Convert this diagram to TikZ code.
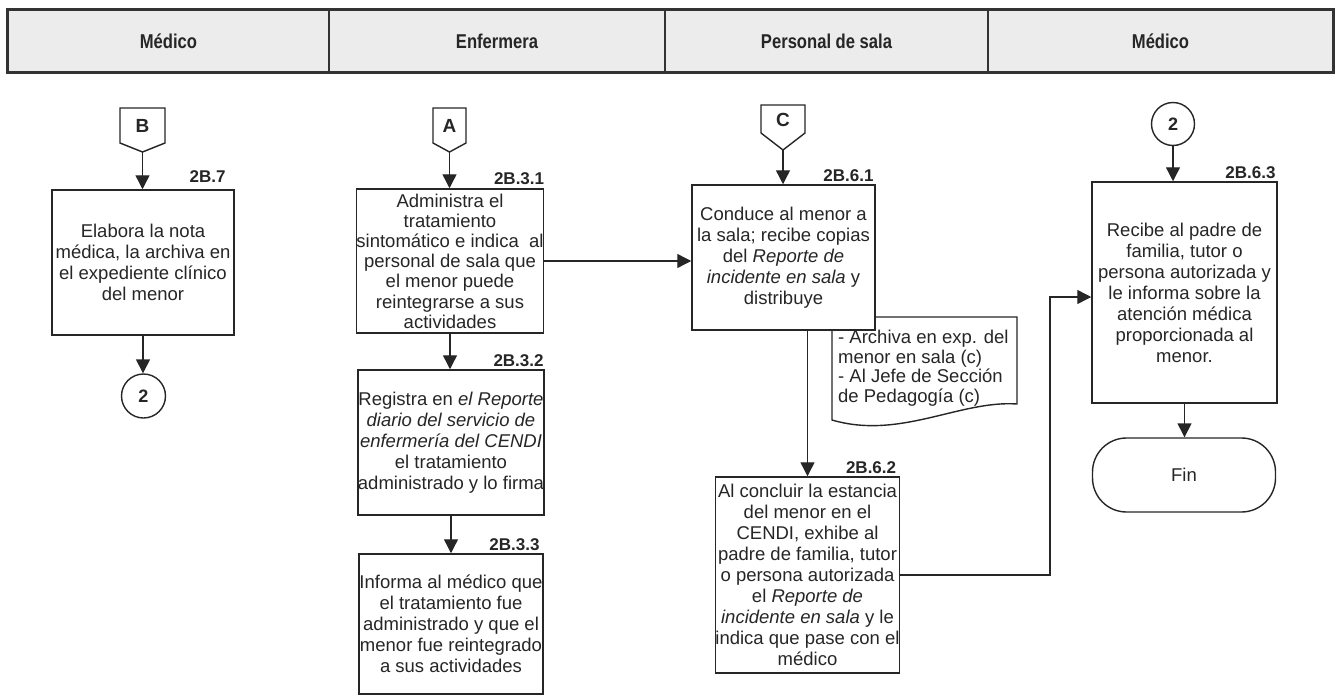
\documentclass[tikz,border=0pt]{standalone}
\usepackage{fontspec}
\setmainfont{Liberation Sans}
\newfontfamily\hdrfont{Liberation Sans}[FakeStretch=0.83]
\usetikzlibrary{arrows.meta,calc}
\begin{document}
\begin{tikzpicture}[x=1pt,y=-1pt,
  ln/.style={draw=black!85, line width=1.4pt},
  arr/.style={ln, -{Triangle[width=14pt,length=14pt]}},
  box/.style={rectangle, draw=black!85, line width=1.5pt, fill=white, inner sep=0pt,
    align=center, text=black!85, font=\fontsize{18.5}{21}\selectfont},
  lbl/.style={anchor=south east, inner sep=0pt, text=black!85,
    font=\bfseries\fontsize{17}{17}\selectfont},
  hdr/.style={rectangle, draw=black!80, line width=1.2pt, fill=gray!15, inner sep=0pt,
    minimum height=62pt, text=black!85, font=\hdrfont\bfseries\fontsize{20}{20}\selectfont},
  offpage/.style={draw=black!85, line width=1.4pt, fill=white},
  letter/.style={inner sep=0pt, text=black!85, font=\bfseries\fontsize{19}{19}\selectfont},
  conn/.style={circle, draw=black!85, line width=1.4pt, fill=white, inner sep=0pt,
    text=black!85, font=\bfseries\fontsize{18}{18}\selectfont},
  term/.style={rectangle, rounded corners=34pt, draw=black!85, line width=1.4pt, fill=white,
    inner sep=0pt, text=black!85, font=\fontsize{18.5}{21}\selectfont},
  doctext/.style={inner sep=0pt, align=left, text=black!85, font=\fontsize{18.5}{19.5}\selectfont}
]
\useasboundingbox (0,0) rectangle (1341,696);

% header
\node[hdr, minimum width=321pt] (h1) at (168.5,41) {Médico};
\node[hdr, minimum width=336pt] (h2) at (497,41) {Enfermera};
\node[hdr, minimum width=323pt] (h3) at (826.5,41) {Personal de sala};
\node[hdr, minimum width=345pt] (h4) at (1160.5,41) {Médico};
\draw[draw=black!80, line width=2pt] (h1.north west) rectangle (h4.south east);

% off-page connectors
\draw[offpage] (120,108) -- (165,108) -- (165,143) -- (142.5,152) -- (120,143) -- cycle;
\node[letter] (B) at (142.5,126) {B};
\coordinate (Btip) at (142.5,152);
\draw[offpage] (433,108) -- (466,108) -- (466,143) -- (449.5,152) -- (433,143) -- cycle;
\node[letter] (A) at (449.5,126) {A};
\coordinate (Atip) at (449.5,152);
\draw[offpage] (761,105) -- (805,105) -- (805,133) -- (783,150) -- (761,133) -- cycle;
\node[letter] (C) at (783,120) {C};
\coordinate (Ctip) at (783,150);

% column 1
\node[box, minimum width=182pt, minimum height=145pt] (b7) at (143,262.5)
  {Elabora la nota\\médica, la archiva en\\el expediente clínico\\del menor};
\node[lbl] at ($(b7.north east)+(-9,-7)$) {2B.7};
\node[conn, minimum size=44pt] (cL) at (143.5,396) {2};

% column 2
\node[box, minimum width=184pt, minimum height=144pt, font=\fontsize{18.5}{20.2}\selectfont] (b31) at (450,261)
  {Administra el\\tratamiento\\sintomático e indica \ al\\personal de sala que\\el menor puede\\reintegrarse a sus\\actividades};
\node[lbl] at ($(b31.north east)+(0,-3)$) {2B.3.1};
\node[box, minimum width=184pt, minimum height=145pt] (b32) at (451,442.5)
  {Registra en \textit{el Reporte}\\\textit{diario del servicio de}\\\textit{enfermería del CENDI}\\el tratamiento\\administrado y lo firma};
\node[lbl] at ($(b32.north east)+(-1,-2)$) {2B.3.2};
\node[box, minimum width=184pt, minimum height=140pt] (b33) at (451,624)
  {Informa al médico que\\el tratamiento fue\\administrado y que el\\menor fue reintegrado\\a sus actividades};
\node[lbl] at ($(b33.north east)+(-4,-2)$) {2B.3.3};

% column 3
\draw[ln, fill=white] (832,317) -- (1017,317) -- (1017,404)
  .. controls (960,400) and (900,440) .. (832,420) -- cycle;
\node[doctext, anchor=west] (doc) at (838,368)
  {- Archiva en exp. del\\menor en sala (c)\\- Al Jefe de Sección\\de Pedagogía (c)};
\node[box, minimum width=183pt, minimum height=145pt] (b61) at (783.5,257.5)
  {Conduce al menor a\\la sala; recibe copias\\del \textit{Reporte de}\\\textit{incidente en sala} y\\distribuye};
\node[lbl] at ($(b61.north east)+(-2,-2)$) {2B.6.1};
\node[box, minimum width=183pt, minimum height=196pt] (b62) at (807.5,575)
  {Al concluir la estancia\\del menor en el\\CENDI, exhibe al\\padre de familia, tutor\\o persona autorizada\\el \textit{Reporte de}\\\textit{incidente en sala} y le\\indica que pase con el\\médico};
\node[lbl] at ($(b62.north east)+(-4,-2)$) {2B.6.2};

% column 4
\node[conn, minimum size=43pt] (cR) at (1173,124) {2};
\node[box, minimum width=185pt, minimum height=221pt] (b63) at (1184.5,292.5)
  {Recibe al padre de\\familia, tutor o\\persona autorizada y\\le informa sobre la\\atención médica\\proporcionada al\\menor.};
\node[lbl] at ($(b63.north east)+(-2,-2)$) {2B.6.3};
\node[term, minimum width=183pt, minimum height=74pt] (fin) at (1184,475) {Fin};
\coordinate (j) at (1050,297);

% connectors
\draw[arr] (Btip) -- (Btip |- b7.north);
\draw[arr] (b7.south) -- (b7.south |- cL.north);
\draw[arr] (Atip) -- (Atip |- b31.north);
\draw[arr] (b31.south) -- (b31.south |- b32.north);
\draw[arr] (b32.south) -- (b32.south |- b33.north);
\draw[arr] (b31.east) -- (b31.east -| b61.west);
\draw[arr] (Ctip) -- (Ctip |- b61.north);
\draw[arr] (b62.north |- b61.south) -- (b62.north);
\draw[arr] (b62.east) -| (j) -- (j -| b63.west);
\draw[arr] (cR.south) -- (cR.south |- b63.north);
\draw[arr] (b63.south) -- (b63.south |- fin.north);
\end{tikzpicture}
\end{document}
